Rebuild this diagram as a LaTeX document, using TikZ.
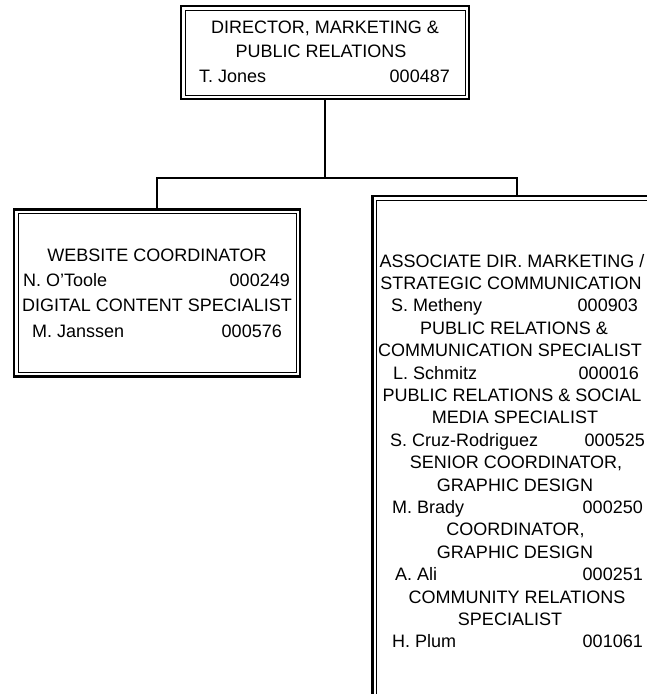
\documentclass[tikz,border=0pt]{standalone}
\usepackage{fontspec}
\setmainfont{Liberation Sans}

\tikzset{
  unitbox/.style={rectangle,draw,line width=2.4pt,anchor=north west,inner sep=0pt,outer sep=0pt,
    path picture={\draw[line width=1pt]
      ([shift={(4pt,-4pt)}]path picture bounding box.north west) rectangle
      ([shift={(-4pt,4pt)}]path picture bounding box.south east);}},
  link/.style={draw,line width=2pt}
}

\begin{document}
\begin{tikzpicture}[x=1pt,y=-1pt]

      \useasboundingbox (0,0) rectangle (647,694);
      \clip (0,0) rectangle (647,694);

      \begin{scope}[every node/.style={unitbox}]
        \node[minimum width=288pt,minimum height=93pt] (dir) at (181,6) {};
        \node[minimum width=286pt,minimum height=167pt] (web) at (14,209.5) {};
        \node[minimum width=289pt,minimum height=540pt] (assoc) at (372.5,196) {};
      \end{scope}

      \coordinate (split) at (325,177.5);
      \path[link] (dir.south) -- (split);
      \path[link] (split) -| (web.north);
      \path[link] (split) -| (assoc.north);

      \begin{scope}[every node/.style={inner sep=0pt,font=\fontsize{18}{22}\selectfont}]

        % titles
        \begin{scope}[every node/.style={inner sep=0pt,anchor=base,font=\fontsize{18}{22}\selectfont}]
          \node (t1) at (325,33) {DIRECTOR, MARKETING \&};
          \node (t2) at (321,57) {PUBLIC RELATIONS};
          \node (t3) at (157,261) {WEBSITE COORDINATOR};
          \node (t4) at (157,311) {DIGITAL CONTENT SPECIALIST};
          \node (t5) at (512,267) {ASSOCIATE DIR. MARKETING /};
          \node (t6) at (511,289.4) {STRATEGIC COMMUNICATION};
          \node (t7) at (514,334.2) {PUBLIC RELATIONS \&};
          \node (t8) at (510,356.6) {COMMUNICATION SPECIALIST};
          \node (t9) at (512,401.4) {PUBLIC RELATIONS \& SOCIAL};
          \node (t10) at (515,423.8) {MEDIA SPECIALIST};
          \node (t11) at (516,468.6) {SENIOR COORDINATOR,};
          \node (t12) at (515,491) {GRAPHIC DESIGN};
          \node (t13) at (515.5,535.8) {COORDINATOR,};
          \node (t14) at (515,558.2) {GRAPHIC DESIGN};
          \node (t15) at (517,603) {COMMUNITY RELATIONS};
          \node (t16) at (510,625.4) {SPECIALIST};
        \end{scope}

        % names
        \begin{scope}[every node/.style={inner sep=0pt,anchor=base west,font=\fontsize{18}{22}\selectfont}]
          \node (n1) at (199,82) {T. Jones};
          \node (n2) at (23,286) {N. O’Toole};
          \node (n3) at (32,337) {M. Janssen};
          \node (n4) at (391,311.8) {S. Metheny};
          \node (n5) at (393,379) {L. Schmitz};
          \node (n6) at (390,446.2) {S. Cruz-Rodriguez};
          \node (n7) at (392,513.4) {M. Brady};
          \node (n8) at (395,580.6) {A. Ali};
          \node (n9) at (392,647.8) {H. Plum};
        \end{scope}

        % position numbers
        \begin{scope}[every node/.style={inner sep=0pt,anchor=base east,font=\fontsize{18}{22}\selectfont}]
          \node (p1) at (450,82) {000487};
          \node (p2) at (290,286) {000249};
          \node (p3) at (282,337) {000576};
          \node (p4) at (638,311.8) {000903};
          \node (p5) at (639,379) {000016};
          \node (p6) at (645,446.2) {000525};
          \node (p7) at (643,513.4) {000250};
          \node (p8) at (643,580.6) {000251};
          \node (p9) at (643,647.8) {001061};
        \end{scope}

      \end{scope}

    \end{tikzpicture}
\end{document}
